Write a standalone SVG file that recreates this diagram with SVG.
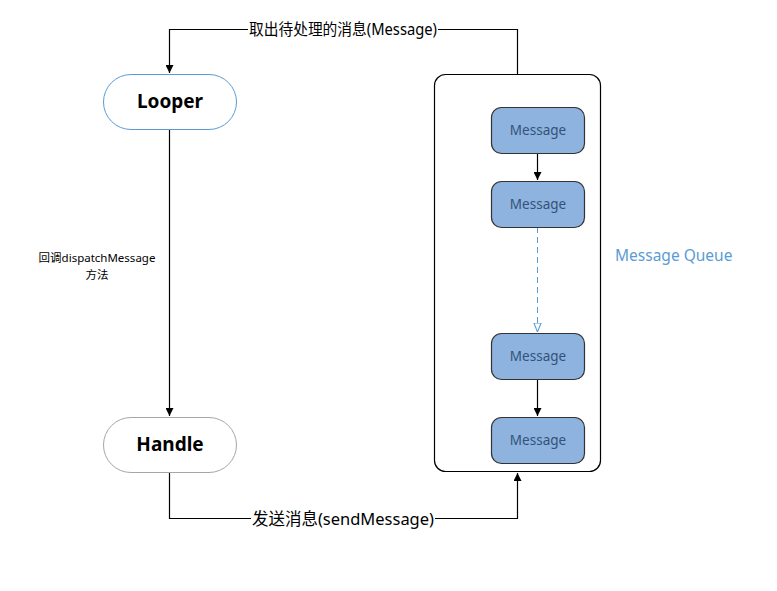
<svg xmlns="http://www.w3.org/2000/svg" width="777" height="591" viewBox="0 0 777 591">
<style>
.t{font-family:"Noto Sans","Noto Sans CJK SC",sans-serif}
.big{font-size:19px;font-weight:bold;fill:#000}
.msg rect{fill:#8db3de;stroke:#333;stroke-width:1.2}
.msg text{font-size:13.5px;fill:#33527a}
.conn{fill:none;stroke:#000;stroke-width:1.2}
</style>
<defs>
<marker id="a" viewBox="0 0 10 10" refX="10" refY="5" markerWidth="8" markerHeight="8" markerUnits="userSpaceOnUse" orient="auto"><path d="M0,0 L10,5 L0,10 z" fill="#000"/></marker>
<marker id="h" viewBox="0 0 10 10" refX="10" refY="5" markerWidth="9" markerHeight="9" markerUnits="userSpaceOnUse" orient="auto"><path d="M0,1 L10,5 L0,9 z" fill="#fff" stroke="#5b9bd5" stroke-width="1.2"/></marker>
</defs>
<rect width="777" height="591" fill="#fff"/>
<g id="queue">
<rect x="434.5" y="74.5" width="166" height="397" rx="11" fill="#fff" stroke="#000" stroke-width="1.2"/>
</g>
<g id="connectors">
<path class="conn" d="M517.5,74 V29.5 H169.5 V73" marker-end="url(#a)"/>
<path class="conn" d="M169.5,129 V416" marker-end="url(#a)"/>
<path class="conn" d="M169.5,472 V518.5 H517.5 V473" marker-end="url(#a)"/>
<path class="conn" d="M537.5,153 V180" marker-end="url(#a)"/>
<path d="M537.5,227 V332" fill="none" stroke="#5b9bd5" stroke-width="1" stroke-dasharray="6,4" marker-end="url(#h)"/>
<path class="conn" d="M537.5,379 V416" marker-end="url(#a)"/>
<rect x="248" y="19" width="190" height="20" fill="#fff"/>
<text class="t" x="343" y="34.5" text-anchor="middle" font-size="15.5" textLength="188" lengthAdjust="spacingAndGlyphs">取出待处理的消息(Message)</text>
<rect x="251" y="507" width="184" height="22" fill="#fff"/>
<text class="t" x="343" y="524.5" text-anchor="middle" font-size="16.5" textLength="182" lengthAdjust="spacingAndGlyphs">发送消息(sendMessage)</text>
<text class="t" x="97" y="262" text-anchor="middle" font-size="11.5">回调dispatchMessage</text>
<text class="t" x="97" y="279" text-anchor="middle" font-size="11.5">方法</text>
</g>
<g id="looper">
<rect x="103.5" y="74.5" width="133" height="55" rx="27.5" fill="#fff" stroke="#5b9bd5" stroke-width="1"/>
<text class="t big" x="170" y="108" text-anchor="middle">Looper</text>
</g>
<g id="handle">
<rect x="103.5" y="417.5" width="133" height="55" rx="27.5" fill="#fff" stroke="#a6a6a6" stroke-width="1"/>
<text class="t big" x="170" y="451" text-anchor="middle">Handle</text>
</g>
<g id="m1" class="msg"><rect x="491.5" y="107.5" width="93" height="46" rx="10"/><text class="t" x="538" y="135" text-anchor="middle">Message</text></g>
<g id="m2" class="msg"><rect x="491.5" y="181.5" width="93" height="46" rx="10"/><text class="t" x="538" y="209" text-anchor="middle">Message</text></g>
<g id="m3" class="msg"><rect x="491.5" y="333.5" width="93" height="46" rx="10"/><text class="t" x="538" y="361" text-anchor="middle">Message</text></g>
<g id="m4" class="msg"><rect x="491.5" y="417.5" width="93" height="46" rx="10"/><text class="t" x="538" y="445" text-anchor="middle">Message</text></g>
<g id="mqlabel"><text class="t" x="615" y="261" font-size="15.5" fill="#5b9bd5">Message Queue</text></g>
</svg>
